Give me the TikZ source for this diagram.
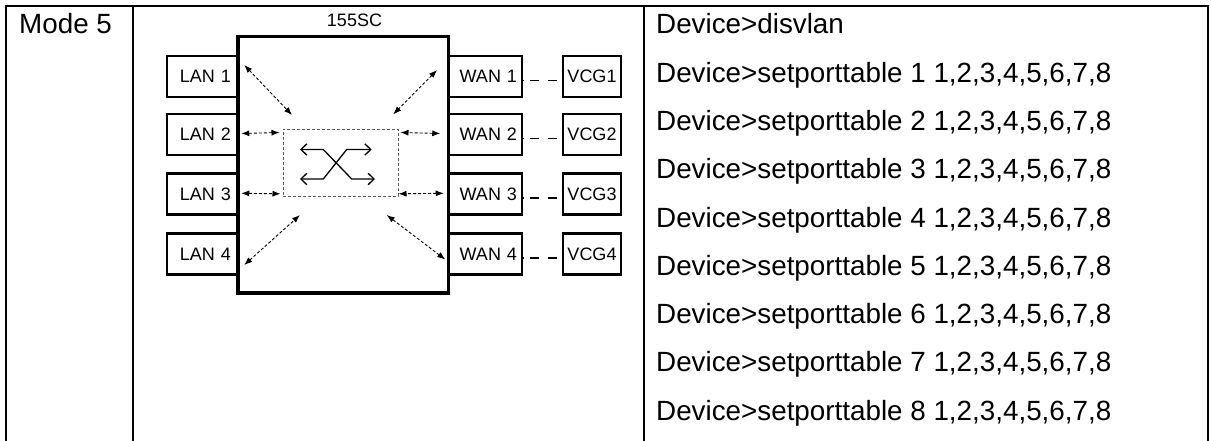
\documentclass[tikz,border=0pt]{standalone}
\usepackage{fontspec}
\setmainfont{Liberation Sans}
\usetikzlibrary{arrows.meta}
\begin{document}
\begin{tikzpicture}[x=1pt,y=-1pt,
  bigtxt/.style={font=\fontsize{27.8}{32}\selectfont, inner sep=0pt},
  smalltxt/.style={font=\fontsize{18}{20}\selectfont, inner sep=0pt},
  tbl/.style={line width=2pt},
  port/.style={draw, line width=2.5pt, font=\fontsize{18}{20}\selectfont, minimum height=41pt, inner sep=0pt},
  lanbox/.style={port, minimum width=71pt, text width=57pt, align=right},
  wanbox/.style={port, minimum width=73pt, text width=63pt, align=right},
  vcgbox/.style={port, minimum width=58pt},
  chassis/.style={draw, line width=3.5pt, minimum width=210.5pt, minimum height=256.5pt, inner sep=0pt},
  swbox/.style={draw=black!65, dash pattern=on 3pt off 2pt, line width=1pt, minimum width=115pt, minimum height=67pt, inner sep=0pt},
  darr/.style={dash pattern=on 3pt off 2pt, line width=0.9pt, {Latex[length=8pt,width=6pt]}-{Latex[length=8pt,width=6pt]}},
  swarr/.style={line width=1.3pt, line join=miter, {Straight Barb[length=6pt,width=11.5pt]}-{Straight Barb[length=6pt,width=11.5pt]}},
  link/.style={line width=1.3pt, dash pattern=on 1pt off 6pt on 9pt off 9pt on 9pt off 9pt}
]
\useasboundingbox (0,0) rectangle (1211,441);
% table
\draw[tbl] (6,441) -- (6,6) -- (1208,6) -- (1208,441);
\draw[tbl] (133,6) -- (133,441);
\draw[tbl] (644,6) -- (644,441);
\node[bigtxt, anchor=base west] (mode) at (19,34) {Mode 5};
% right column
\node[bigtxt, anchor=base west] (cmd0) at (656,34) {Device>disvlan};
\foreach \k in {1,...,8} {
  \node[bigtxt, anchor=base west] (cmd\k) at (656,{34+48.25*\k}) {Device>setporttable \k\ 1,2,3,4,5,6,7,8};
}
% ports
\node[lanbox] (lan1) at (202.5,76.5) {LAN 1};
\node[lanbox] (lan2) at (202.5,134.5) {LAN 2};
\node[lanbox] (lan3) at (202.5,194) {LAN 3};
\node[lanbox] (lan4) at (202.5,254) {LAN 4};
\node[wanbox] (wan1) at (485.5,76.5) {WAN 1};
\node[wanbox] (wan2) at (485.5,134.5) {WAN 2};
\node[wanbox] (wan3) at (485.5,194) {WAN 3};
\node[wanbox] (wan4) at (485.5,254) {WAN 4};
\node[vcgbox] (vcg1) at (592,76.5) {VCG1};
\node[vcgbox] (vcg2) at (592,134.5) {VCG2};
\node[vcgbox] (vcg3) at (592,194) {VCG3};
\node[vcgbox] (vcg4) at (592,254) {VCG4};
% chassis
\node[chassis] (sc) at (343.25,164.75) {};
\node[smalltxt, anchor=base] (sctitle) at (354.5,27) {155SC};
% switch
\node[swbox] (sw) at (340.5,163) {};
\draw[swarr] (300,149.5) -- (323.3,149.5) -- (351.7,179) -- (375,179);
\draw[swarr] (300,179) -- (323.3,179) -- (346.7,149.5) -- (371.7,149.5);
% inner free ends
\coordinate (e1) at (292,115);
\coordinate (e4) at (300,215);
\coordinate (e5) at (393.3,114.3);
\coordinate (e8) at (386.7,215);
% dashed arrows
\draw[darr] ([xshift=5pt,yshift=11.5pt]lan1.east) -- (e1);
\draw[darr] ([xshift=2pt,yshift=1pt]lan2.east) -- ([xshift=-3pt,yshift=-3.5pt]sw.north west);
\draw[darr] ([xshift=2pt,yshift=0.7pt]lan3.east) -- ([xshift=-2pt,yshift=3.2pt]sw.south west);
\draw[darr] ([xshift=5pt,yshift=-11pt]lan4.east) -- (e4);
\draw[darr] ([xshift=-10.7pt,yshift=6.5pt]wan1.west) -- (e5);
\draw[darr] ([xshift=-7.5pt,yshift=1pt]wan2.west) -- ([xshift=2pt,yshift=-3.5pt]sw.north east);
\draw[darr] ([xshift=-4pt,yshift=0.7pt]wan3.west) -- ([yshift=3.2pt]sw.south east);
\draw[darr] ([xshift=-2.5pt,yshift=-5.5pt]wan4.west) -- (e8);
% WAN - VCG links
\foreach \i in {1,...,4} {
  \draw[link] ([yshift=-4pt]wan\i.east) -- ([yshift=-4pt]vcg\i.west);
}
\end{tikzpicture}
\end{document}
